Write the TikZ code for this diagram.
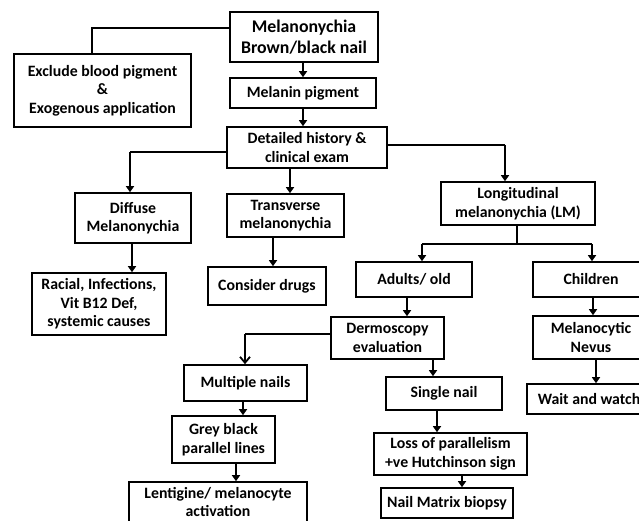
\documentclass[tikz,border=0pt]{standalone}
\usepackage{fontspec}
\setmainfont{Carlito}
\usetikzlibrary{arrows.meta}
\begin{document}
\begin{tikzpicture}[x=1pt,y=-1pt,
  box/.style={draw, line width=1.6pt, rectangle, inner sep=0pt, align=center,
    font=\bfseries\fontsize{15.8}{18.6}\selectfont},
  arr/.style={line width=2.4pt, -{Triangle[length=6pt,width=8pt]}},
  ln/.style={line width=1.5pt},
  oarr/.style={line width=1.8pt, -{Straight Barb[length=6pt,width=10pt,line width=1.8pt]}}]
\useasboundingbox (0,0) rectangle (639,521);
\clip (0,0) rectangle (639,521);
\fill[white] (0,0) rectangle (639,521);
% nodes
\node[box, minimum width=148, minimum height=50, font=\bfseries\fontsize{17.8}{20.5}\selectfont] (mel) at (304,37) {Melanonychia\\Brown/black nail};
\node[box, minimum width=177, minimum height=73] (excl) at (102.5,90.5) {Exclude blood pigment\\\&\\Exogenous application};
\node[box, minimum width=146, minimum height=30] (pig) at (303,93) {Melanin pigment};
\node[box, minimum width=160, minimum height=41] (hist) at (307,147.5) {Detailed history \&\\clinical exam};
\node[box, minimum width=116, minimum height=50] (diff) at (133,218) {Diffuse\\Melanonychia};
\node[box, minimum width=134, minimum height=62] (rac) at (99,304) {Racial, Infections,\\Vit B12 Def,\\systemic causes};
\node[box, minimum width=117, minimum height=43] (trans) at (285.5,215.5) {Transverse\\melanonychia};
\node[box, minimum width=118, minimum height=38] (drugs) at (267,286) {Consider drugs};
\node[box, minimum width=154, minimum height=43] (lm) at (518,203.5) {Longitudinal\\melanonychia (LM)};
\node[box, minimum width=116, minimum height=35] (adult) at (414,279.5) {Adults/ old};
\node[box, minimum width=116, minimum height=35] (child) at (591,279.5) {Children};
\node[box, minimum width=113, minimum height=42] (derm) at (387.5,338) {Dermoscopy\\evaluation};
\node[box, minimum width=116, minimum height=33] (single) at (444,393.5) {Single nail};
\node[box, minimum width=123, minimum height=36] (mult) at (245.5,383) {Multiple nails};
\node[box, minimum width=103, minimum height=47] (grey) at (223.5,439.5) {Grey black\\parallel lines};
\node[box, minimum width=178, minimum height=50, text depth=10pt] (lent) at (218,507) {Lentigine/ melanocyte\\activation};
\node[box, minimum width=153, minimum height=42] (loss) at (450.5,454) {Loss of parallelism\\+ve Hutchinson sign};
\node[box, minimum width=132, minimum height=30] (nail) at (447,503) {Nail Matrix biopsy};
\node[box, minimum width=116, minimum height=43] (melno) at (591,337.5) {Melanocytic\\Nevus};
\node[box, minimum width=124, minimum height=30] (wait) at (589,399) {Wait and watch};
% helper coordinates
\coordinate (e1) at (92,28);
\coordinate (hl) at (130,152);
\coordinate (hr) at (505,145);
\coordinate (lmj) at (517,244);
\coordinate (ja) at (422,244);
\coordinate (jc) at (592,244);
\coordinate (dl) at (245,334);
% connectors
\draw[ln] (mel.west |- e1) -- (e1) -- (e1 |- excl.north);
\draw[arr] (mel.south -| 303,0) -- (pig.north -| 303,0);
\draw[arr] (pig.south -| 303,0) -- (hist.north -| 303,0);
\draw[arr] (hist.south -| 290,0) -- (trans.north -| 290,0);
\draw[ln] (hist.west |- hl) -- (hl);
\draw[arr] (hl) -- (hl |- diff.north);
\draw[ln] (hist.east |- hr) -- (hr);
\draw[arr] (hr) -- (hr |- lm.north);
\draw[arr] (diff.south -| 132,0) -- (rac.north -| 132,0);
\draw[arr] (trans.south -| 273,0) -- (drugs.north -| 273,0);
\draw[ln] (lm.south -| lmj) -- (lmj);
\draw[ln] (ja) -- (jc);
\draw[arr] (ja) -- (ja |- adult.north);
\draw[arr] (jc) -- (jc |- child.north);
\draw[arr] (adult.south -| 407,0) -- (derm.north -| 407,0);
\draw[ln] (derm.west |- dl) -- (dl);
\draw[oarr] (dl) -- (dl |- mult.north);
\draw[arr] (derm.south -| 433,0) -- (single.north -| 433,0);
\draw[arr] (mult.south -| 243,0) -- (grey.north -| 243,0);
\draw[arr] (grey.south -| 236,0) -- (lent.north -| 236,0);
\draw[arr] (single.south -| 437,0) -- (loss.north -| 437,0);
\draw[arr] (loss.south -| 462,0) -- (nail.north -| 462,0);
\draw[arr] (child.south -| 593,0) -- (melno.north -| 593,0);
\draw[arr] (melno.south -| 596,0) -- (wait.north -| 596,0);
\end{tikzpicture}
\end{document}
